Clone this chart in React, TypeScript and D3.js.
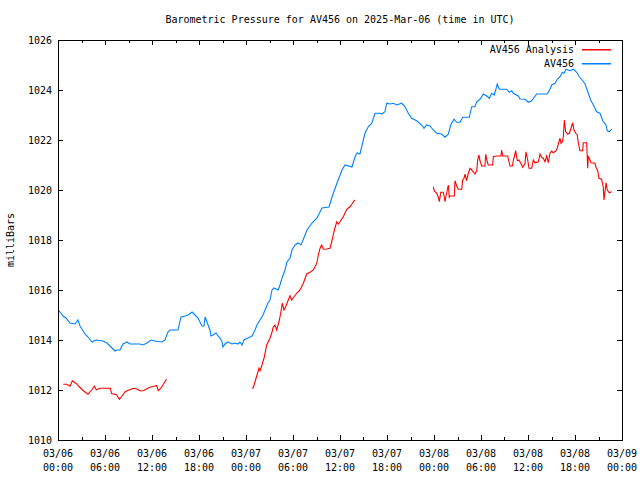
import React from "react";
import * as d3 from "d3";

const TITLE = "Barometric Pressure for AV456 on 2025-Mar-06 (time in UTC)";
const Y_LABEL = "milliBars";
const SERIES_NAMES = ["AV456 Analysis", "AV456"];
const SERIES_COLORS = ["#ff0000", "#0080ff"];

// hours since 03/06 00:00 UTC
const xTickHours = [0, 6, 12, 18, 24, 30, 36, 42, 48, 54, 60, 66, 72];
const xTickDates = ["03/06", "03/06", "03/06", "03/06", "03/07", "03/07", "03/07", "03/07", "03/08", "03/08", "03/08", "03/08", "03/09"];
const xTickTimes = ["00:00", "06:00", "12:00", "18:00", "00:00", "06:00", "12:00", "18:00", "00:00", "06:00", "12:00", "18:00", "00:00"];
const yTicks = [1010, 1012, 1014, 1016, 1018, 1020, 1022, 1024, 1026];

// AV456 observed
const obsHours = [
  0, 0.26, 0.64, 1.02, 1.53, 2.17, 2.55, 2.81, 3.45, 3.83, 4.34, 4.85, 5.74, 6.26, 6.64, 7.02, 7.28, 7.53, 7.91, 8.3,
  8.81, 9.19, 10.47, 10.85, 11.36, 11.87, 12.38, 13.28, 13.66, 14.04, 14.3, 15.32, 15.7, 16.21, 16.6, 17.11, 17.49, 17.87, 18.13, 18.38,
  18.64, 18.77, 19.02, 19.4, 19.53, 19.79, 20.17, 20.43, 20.68, 20.94, 21.06, 21.32, 21.7, 22.21, 22.6, 22.98, 23.23, 23.49, 23.74, 24.26,
  24.77, 25.15, 25.4, 25.79, 26.17, 26.43, 26.81, 27.06, 27.32, 27.57, 28.09, 28.34, 28.6, 28.98, 29.23, 29.62, 29.87, 30.26, 30.64, 31.02,
  31.28, 31.79, 32.43, 33.06, 33.7, 34.6, 34.98, 35.62, 36.26, 36.64, 37.53, 37.91, 38.17, 38.55, 38.77, 39.19, 39.61, 40.05, 40.47, 41.11,
  41.32, 41.74, 41.96, 42.38, 42.8, 43.24, 43.88, 44.3, 44.72, 45.15, 45.79, 46.43, 46.72, 47.07, 47.49, 47.91, 48.34, 48.98, 49.4, 49.83,
  50.13, 50.55, 50.9, 51.32, 51.66, 52.51, 52.81, 53.23, 53.45, 53.87, 54.3, 54.73, 55.06, 55.37, 55.7, 56.08, 56.34, 57.28, 57.61, 57.92,
  58.12, 58.76, 58.98, 59.62, 60.04, 60.47, 61.11, 62.46, 62.81, 63.02, 63.45, 63.74, 64.09, 64.38, 64.6, 64.85, 65.36, 65.78, 66.22, 66.55,
  66.98, 67.28, 67.7, 68.0, 68.34, 68.77, 69.19, 69.54, 69.96, 70.12, 70.38, 70.69,
];
const obsValues = [
  1015.2, 1015.12, 1014.96, 1014.88, 1014.68, 1014.64, 1014.8, 1014.56, 1014.24, 1014.12, 1013.92, 1014.0, 1013.96, 1013.88, 1013.76, 1013.64, 1013.56, 1013.6, 1013.6, 1013.84,
  1013.92, 1013.84, 1013.84, 1013.8, 1013.88, 1014.0, 1013.96, 1013.92, 1014.0, 1014.32, 1014.4, 1014.4, 1014.92, 1014.96, 1015.0, 1015.12, 1015.0, 1014.88, 1014.72, 1014.56,
  1014.56, 1014.92, 1014.72, 1014.4, 1014.16, 1014.2, 1014.28, 1014.16, 1014.08, 1013.92, 1013.72, 1013.84, 1013.92, 1013.84, 1013.88, 1013.84, 1013.92, 1013.8, 1014.0, 1014.08,
  1014.16, 1014.4, 1014.6, 1014.8, 1015.0, 1015.2, 1015.48, 1015.6, 1016.0, 1016.08, 1016.0, 1016.2, 1016.48, 1016.8, 1017.12, 1017.28, 1017.6, 1017.8, 1017.88, 1017.8,
  1018.0, 1018.4, 1018.68, 1018.88, 1019.28, 1019.32, 1019.72, 1020.28, 1020.8, 1021.0, 1020.92, 1021.32, 1021.48, 1021.44, 1021.73, 1022.27, 1022.53, 1022.67, 1023.07, 1023.07,
  1023.04, 1023.13, 1023.47, 1023.44, 1023.47, 1023.4, 1023.47, 1023.33, 1023.07, 1022.87, 1022.77, 1022.6, 1022.47, 1022.6, 1022.56, 1022.4, 1022.27, 1022.24, 1022.11, 1022.23,
  1022.6, 1022.83, 1022.71, 1022.71, 1022.91, 1022.91, 1023.33, 1023.33, 1023.53, 1023.63, 1023.84, 1023.76, 1023.67, 1023.87, 1023.8, 1024.24, 1024.03, 1024.03, 1023.91, 1023.97,
  1023.87, 1023.76, 1023.64, 1023.63, 1023.51, 1023.57, 1023.84, 1023.84, 1024.03, 1024.2, 1024.27, 1024.43, 1024.53, 1024.71, 1024.67, 1024.83, 1024.77, 1024.83, 1024.71, 1024.53,
  1024.37, 1024.24, 1023.87, 1023.6, 1023.4, 1023.13, 1023.07, 1022.77, 1022.6, 1022.37, 1022.33, 1022.44,
];

// AV456 Analysis (null = gap)
const anaHours = [
  0.68, 1.11, 1.53, 1.83, 2.39, 2.68, 3.23, 3.83, 4.09, 4.38, 4.63, 4.89, 5.36, 6.7, 6.83, 7.47, 7.83, 8.13, 8.62, 9.61,
  10.05, 10.53, 10.95, 11.64, 12.38, 12.6, 12.8, 13.15, 13.31, 13.85,
  19.0,
  24.73, 24.93, 25.15, 25.44, 25.66, 25.79, 26.0, 26.3, 26.64, 27.06, 27.28, 27.49, 27.7, 27.92, 28.21, 28.43, 28.63, 28.85, 29.07, 29.4,
  29.62, 29.83, 30.04, 30.47, 30.89, 31.32, 31.75, 32.17, 32.59, 33.03, 33.23, 33.45, 33.66, 33.87, 34.3, 34.72, 34.94, 35.23, 35.58, 35.78,
  36.0, 36.42, 36.86, 37.28, 37.79, 37.91,
  43.0,
  47.91, 48.04, 48.35, 48.55, 48.68, 48.86, 49.19, 49.32, 49.4, 49.53, 49.7, 49.83, 49.95, 50.04, 50.59, 50.68, 50.9, 51.1, 51.54, 51.66,
  51.83, 51.96, 52.17, 52.38, 52.6, 52.81, 53.02, 53.23, 53.45, 53.58, 53.74, 53.87, 54.09, 54.51, 54.6, 54.8, 54.93, 55.49, 55.57, 56.0,
  56.55, 56.64, 56.77, 57.41, 57.57, 57.7, 58.0, 58.12, 58.43, 58.64, 58.85, 59.2, 59.32, 59.62, 59.74, 59.96, 60.13, 60.47, 60.68, 60.89,
  61.32, 61.53, 61.75, 61.95, 62.17, 62.39, 62.59, 62.81, 63.02, 63.23, 63.54, 63.74, 63.87, 64.09, 64.21, 64.38, 64.51, 64.64, 64.81, 65.07,
  65.28, 65.49, 65.71, 65.87, 66.09, 66.29, 66.42, 66.64, 66.98, 67.06, 67.49, 67.62, 67.7, 67.83, 68.04, 68.55, 68.68, 68.9, 69.06, 69.4,
  69.61, 69.7, 69.83, 69.96, 70.12, 70.38, 70.69,
];
const anaValues: (number | null)[] = [
  1012.23, 1012.23, 1012.15, 1012.37, 1012.24, 1012.14, 1011.97, 1011.83, 1011.93, 1012.03, 1012.16, 1012.01, 1012.07, 1012.07, 1011.86, 1011.81, 1011.63, 1011.74, 1011.94, 1012.07,
  1012.04, 1011.96, 1011.98, 1012.1, 1012.16, 1012.18, 1011.97, 1012.08, 1012.16, 1012.43,
  null,
  1012.07, 1012.09, 1012.33, 1012.63, 1012.87, 1012.77, 1012.96, 1013.27, 1013.8, 1014.07, 1014.27, 1014.53, 1014.6, 1014.4, 1014.73, 1015.07, 1015.47, 1015.2, 1015.33, 1015.6,
  1015.77, 1015.6, 1015.69, 1015.87, 1016.0, 1016.27, 1016.64, 1016.71, 1016.8, 1017.07, 1017.4, 1017.67, 1017.8, 1017.63, 1017.64, 1017.67, 1017.93, 1018.33, 1018.73, 1018.64,
  1018.73, 1018.93, 1019.23, 1019.33, 1019.56, 1019.6,
  null,
  1020.13, 1019.96, 1019.87, 1019.71, 1019.53, 1019.91, 1019.91, 1019.71, 1019.53, 1019.76, 1020.0, 1020.2, 1019.71, 1019.76, 1019.76, 1020.37, 1020.16, 1020.03, 1020.03, 1020.4,
  1020.47, 1020.63, 1020.37, 1020.67, 1020.87, 1020.8, 1020.73, 1020.64, 1020.77, 1021.2, 1021.4, 1021.17, 1020.96, 1020.96, 1021.43, 1021.13, 1021.0, 1021.0, 1021.33, 1021.36,
  1021.36, 1021.6, 1021.36, 1021.36, 1021.13, 1020.96, 1020.96, 1021.17, 1021.57, 1021.17, 1021.2, 1021.0, 1020.91, 1021.07, 1021.53, 1021.2, 1020.87, 1020.87, 1021.2, 1021.09,
  1021.13, 1021.44, 1021.31, 1021.27, 1021.13, 1021.36, 1021.09, 1021.47, 1021.56, 1021.49, 1021.56, 1021.67, 1021.84, 1022.07, 1021.87, 1021.93, 1022.13, 1022.8, 1022.33, 1022.24,
  1022.27, 1022.47, 1022.69, 1022.4, 1022.27, 1022.2, 1021.89, 1021.57, 1021.57, 1021.89, 1021.89, 1020.87, 1021.33, 1021.27, 1021.09, 1021.07, 1020.91, 1020.77, 1020.47, 1020.43,
  1020.11, 1019.6, 1019.93, 1020.29, 1020.0, 1019.89, 1019.93,
];

const W = 640, H = 480;
const L = 58, R = 622, T = 40, B = 440;
const FONT = "'DejaVu Sans Mono', 'Liberation Mono', monospace";

export default function App() {
  const x = d3.scaleLinear().domain([0, 72]).range([L, R]);
  const y = d3.scaleLinear().domain([1010, 1026]).range([B, T]);

  const obsData = obsHours.map((h, i) => ({ h, v: obsValues[i] as number | null }));
  const anaData = anaHours.map((h, i) => ({ h, v: anaValues[i] }));
  const line = d3
    .line<{ h: number; v: number | null }>()
    .defined((d) => d.v !== null)
    .x((d) => x(d.h))
    .y((d) => y(d.v as number));

  const minorHours = d3.range(3, 72, 6);
  const majLen = 5, minLen = 3;
  const px = (v: number) => Math.round(v) + 0.5;

  return (
    <svg width={W} height={H} style={{ position: "absolute", left: 0, top: 0, background: "#fff" }} fontFamily={FONT} fontSize={10}>
      <rect x={0} y={0} width={W} height={H} fill="#fff" />
      <text x={(L + R) / 2} y={23} textAnchor="middle" fill="#000">{TITLE}</text>
      <text transform={`translate(14,${(T + B) / 2}) rotate(-90)`} textAnchor="middle" fill="#000">{Y_LABEL}</text>

      {/* ticks */}
      <g stroke="#000" strokeWidth={1} shapeRendering="crispEdges">
        {xTickHours.map((h) => (
          <g key={"xt" + h}>
            <line x1={px(x(h))} x2={px(x(h))} y1={B} y2={B - majLen} />
            <line x1={px(x(h))} x2={px(x(h))} y1={T} y2={T + majLen} />
          </g>
        ))}
        {minorHours.map((h) => (
          <g key={"xm" + h}>
            <line x1={px(x(h))} x2={px(x(h))} y1={B} y2={B - minLen} />
            <line x1={px(x(h))} x2={px(x(h))} y1={T} y2={T + minLen} />
          </g>
        ))}
        {yTicks.map((v) => (
          <g key={"yt" + v}>
            <line x1={L} x2={L + majLen} y1={px(y(v))} y2={px(y(v))} />
            <line x1={R} x2={R - majLen} y1={px(y(v))} y2={px(y(v))} />
          </g>
        ))}
      </g>

      {yTicks.map((v) => (
        <text key={"yl" + v} x={L - 6} y={y(v) + 4} textAnchor="end" fill="#000">{v}</text>
      ))}
      {xTickHours.map((h, i) => (
        <g key={"xl" + h}>
          <text x={x(h)} y={B + 17} textAnchor="middle" fill="#000">{xTickDates[i]}</text>
          <text x={x(h)} y={B + 31} textAnchor="middle" fill="#000">{xTickTimes[i]}</text>
        </g>
      ))}

      <path d={line(anaData) || ""} fill="none" stroke={SERIES_COLORS[0]} strokeWidth={1.1} />
      <path d={line(obsData) || ""} fill="none" stroke={SERIES_COLORS[1]} strokeWidth={1.1} />

      {/* legend */}
      {SERIES_NAMES.map((n, i) => (
        <g key={n}>
          <text x={574} y={53 + i * 14} textAnchor="end" fill="#000">{n}</text>
          <rect x={582} y={49 + i * 14} width={29} height={1.5} fill={SERIES_COLORS[i]} />
        </g>
      ))}

      <rect x={L + 0.5} y={T + 0.5} width={R - L} height={B - T} fill="none" stroke="#000" strokeWidth={1} shapeRendering="crispEdges" />
    </svg>
  );
}
